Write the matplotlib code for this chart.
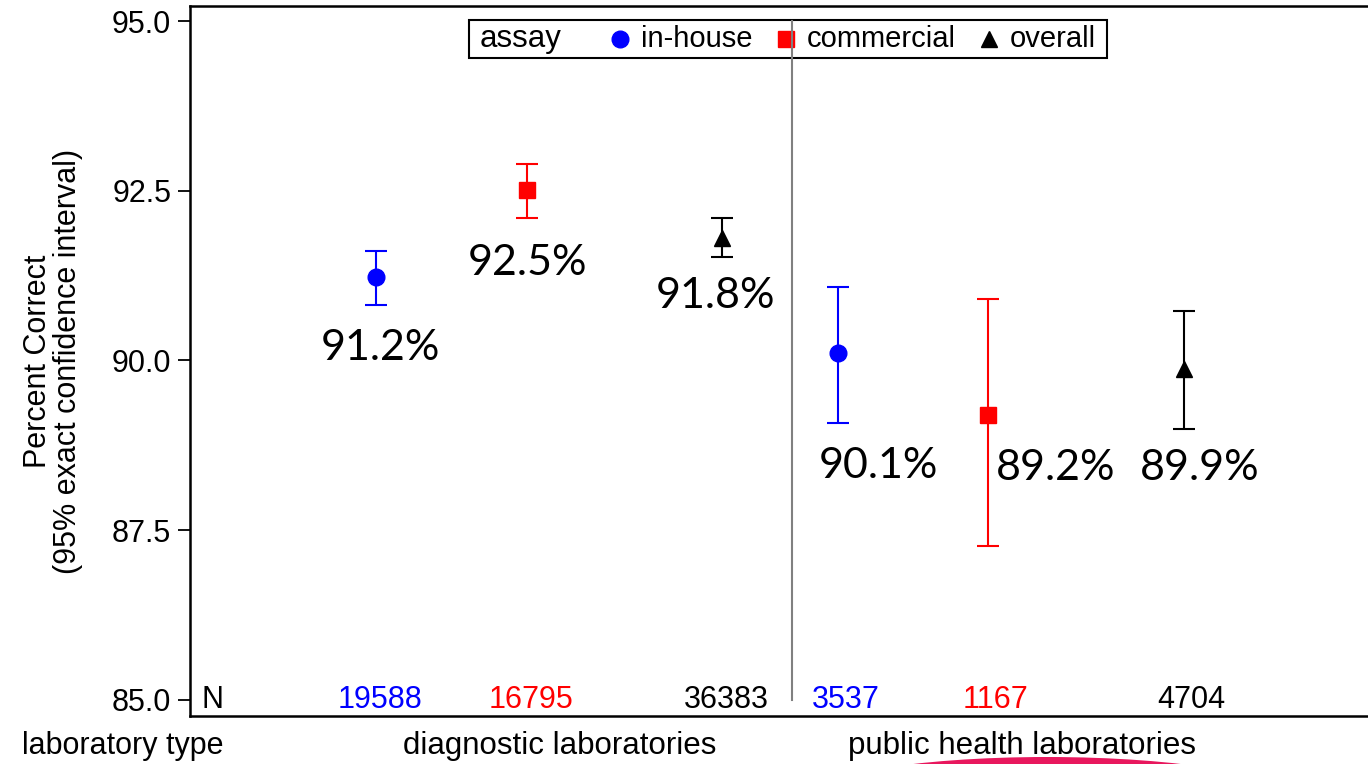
import matplotlib
matplotlib.use("Agg")
import matplotlib.pyplot as plt
from matplotlib.lines import Line2D
from matplotlib.patches import Ellipse
from matplotlib.offsetbox import AnchoredOffsetbox, HPacker, TextArea, DrawingArea

plt.rcParams["font.family"] = ["Liberation Sans", "DejaVu Sans"]

# proficiency results by laboratory type and assay
lab_types = ["diagnostic laboratories", "public health laboratories"]
assays = ["in-house", "commercial", "overall"]
pct_correct = [91.23, 92.51, 91.80, 90.11, 89.20, 89.87]
ci_low = [90.82, 92.10, 91.52, 89.08, 87.27, 88.99]
ci_high = [91.61, 92.89, 92.10, 91.08, 90.91, 90.73]
n_obs = [19588, 16795, 36383, 3537, 1167, 4704]

# layout (x in hundreds of pixels from the y axis)
x_pos = [1.86, 3.37, 5.32, 6.48, 7.98, 9.94]
n_x = [1.90, 3.41, 5.36, 6.56, 8.05, 10.01]
lbl_x = [1.90, 3.38, 5.25, 6.88, 8.66, 10.10]
lbl_y = [90.01, 91.26, 90.77, 88.27, 88.24, 88.24]
group_x = [3.70, 8.32]
divider_x = 6.02

colors = {"in-house": "#0000ff", "commercial": "#ff0000", "overall": "#000000"}
markers = {"in-house": "o", "commercial": "s", "overall": "^"}
msize = {"in-house": 12, "commercial": 11, "overall": 11}

fig = plt.figure(figsize=(13.68, 7.64), dpi=100)
ax = fig.add_axes([190 / 1368, 48 / 764, 1 - 190 / 1368, 710 / 764])

for i, (p, lo, hi) in enumerate(zip(pct_correct, ci_low, ci_high)):
    a = assays[i % 3]
    ax.errorbar(x_pos[i], p, yerr=[[p - lo], [hi - p]], fmt=markers[a],
                color=colors[a], ms=msize[a], elinewidth=1.5, capsize=8,
                capthick=1.5, zorder=3)
    ax.text(lbl_x[i], lbl_y[i], f"{p:.1f}%", fontsize=31, family="Lato",
            ha="center", va="baseline")
    ax.text(n_x[i], 85.0, str(n_obs[i]), fontsize=22, color=colors[a],
            ha="center", va="center")

ax.text(0.23, 85.0, "N", fontsize=22, ha="center", va="center")
ax.plot([divider_x, divider_x], [85.0, 95.0], color="#808080", lw=1.5, zorder=7)

ax.set_xlim(0, 11.78)
ax.set_ylim(84.764, 95.221)
ax.set_yticks([85.0, 87.5, 90.0, 92.5, 95.0])
ax.set_yticklabels([f"{t:.1f}" for t in ax.get_yticks()], fontsize=22)
ax.set_xticks([])
ax.tick_params(axis="y", length=8.5, width=1.3, pad=5)
ax.spines["right"].set_visible(False)
for s in ["top", "bottom", "left"]:
    ax.spines[s].set_linewidth(1.8)

ax.set_ylabel("Percent Correct\n(95% exact confidence interval)", fontsize=22,
              linespacing=1.0, labelpad=21)

# row of laboratory type names under the axis
fig.text(22 / 1368, 18 / 764, "laboratory type", fontsize=22, ha="left", va="center")
for gx, name in zip(group_x, lab_types):
    ax.text(gx, -0.0423, name, fontsize=22.5, ha="center", va="center",
            transform=ax.get_xaxis_transform())


def spacer(w):
    return DrawingArea(w, 0, 0, 0)


# legend laid out on a single line with the title in front
items = [TextArea("assay", textprops=dict(size=22.5)), spacer(2)]
for a in assays:
    da = DrawingArea(16, 16, 0, 0)
    da.add_artist(Line2D([8], [8], marker=markers[a], color=colors[a],
                         ms=msize[a], ls="none"))
    items.append(HPacker(children=[da, TextArea(a, textprops=dict(size=21))],
                         sep=7, pad=0, align="center"))
row = HPacker(children=items, sep=16, pad=0, align="center")
framed = HPacker(children=[spacer(5), row, spacer(5)], sep=0, pad=0, align="center")
leg = AnchoredOffsetbox(loc="upper center", child=framed, pad=0.3, borderpad=0,
                        frameon=True, bbox_to_anchor=(0.5076, 0.9803),
                        bbox_transform=ax.transAxes)
leg.patch.set_boxstyle("square,pad=0")
leg.patch.set_linewidth(1.5)
leg.patch.set_edgecolor("black")
leg.set_zorder(5)
ax.add_artist(leg)

# pink highlight under the right-hand group label
fig.add_artist(Ellipse((1047 / 1368, -36 / 764), 490 / 1368, 86 / 764,
                       transform=fig.transFigure, color="#e8175d", lw=0))

fig.savefig("out.png", dpi=100)
